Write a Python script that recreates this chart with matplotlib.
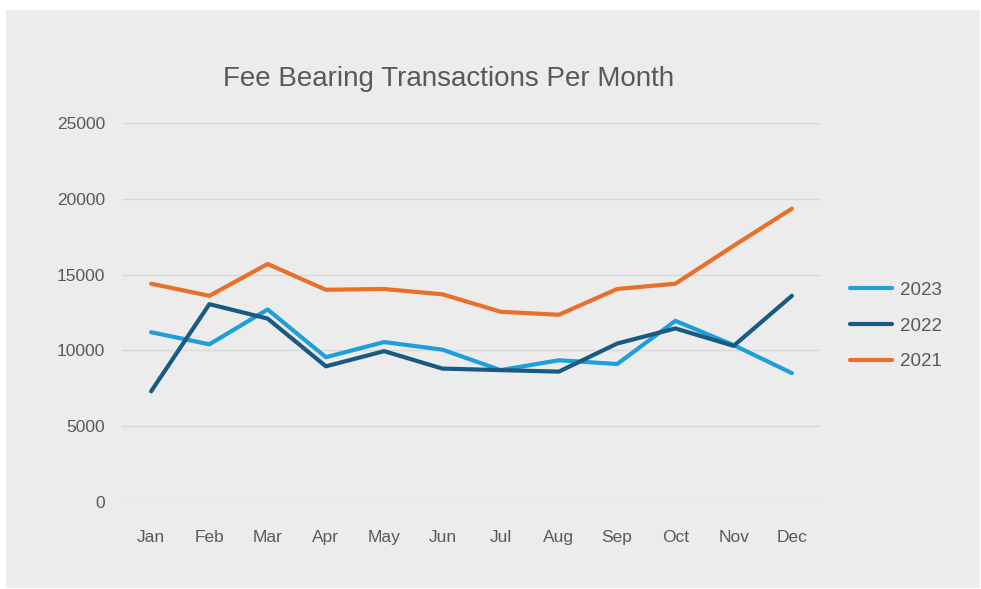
import matplotlib
matplotlib.use("Agg")
import matplotlib.pyplot as plt
from matplotlib.patches import Rectangle

months = ["Jan", "Feb", "Mar", "Apr", "May", "Jun", "Jul", "Aug", "Sep", "Oct", "Nov", "Dec"]
y2023 = [11200, 10400, 12700, 9550, 10550, 10050, 8700, 9350, 9100, 11950, 10350, 8500]
y2022 = [7300, 13050, 12100, 8950, 9950, 8800, 8700, 8600, 10450, 11450, 10300, 13600]
y2021 = [14400, 13600, 15700, 14000, 14050, 13700, 12550, 12350, 14050, 14400, 16900, 19350]
yticks = [0, 5000, 10000, 15000, 20000, 25000]

plt.rcParams['font.family'] = ['Liberation Sans', 'DejaVu Sans']
txt = '#595959'

fig = plt.figure(figsize=(9.81, 5.89), dpi=100)
fig.patch.set_facecolor('white')
bg = Rectangle((6/981, 1/589), 974/981, 578/589, transform=fig.transFigure,
               facecolor='#ececec', edgecolor='none', zorder=-10)
fig.add_artist(bg)

ax = fig.add_axes([122/981, 1-502/589, 699/981, 379/589])
ax.set_zorder(1)
ax.set_facecolor('none')
x = list(range(len(months)))
ax.plot(x, y2023, color='#1f9fda', lw=3, label='2023', solid_capstyle='round', solid_joinstyle='round')
ax.plot(x, y2022, color='#195a82', lw=3, label='2022', solid_capstyle='round', solid_joinstyle='round')
ax.plot(x, y2021, color='#e8702a', lw=3, label='2021', solid_capstyle='round', solid_joinstyle='round')

ax.set_xlim(-0.5, 11.5)
ax.set_ylim(0, 25000)
ax.set_yticks(yticks)
ax.set_yticklabels([str(v) for v in yticks])
ax.set_xticks(x)
ax.set_xticklabels(months)
ax.grid(axis='y', color='#d9d9d9', lw=1)
ax.set_axisbelow(True)
for s in ax.spines.values():
    s.set_visible(False)
ax.tick_params(length=0, colors=txt, labelsize=12.5)
ax.tick_params(axis='x', pad=20)
ax.tick_params(axis='y', pad=12)

fig.text(449/981, 1-79/589, 'Fee Bearing Transactions Per Month', ha='center', va='center',
         fontsize=20, color=txt)

leg = ax.legend(loc='center left', bbox_to_anchor=(833/981, 1-326/589), bbox_transform=fig.transFigure,
                frameon=False, fontsize=13.5, labelcolor=txt, handlelength=2.25, labelspacing=1.0,
                handletextpad=0.43)

fig.savefig('out.png', dpi=100, facecolor='white')
